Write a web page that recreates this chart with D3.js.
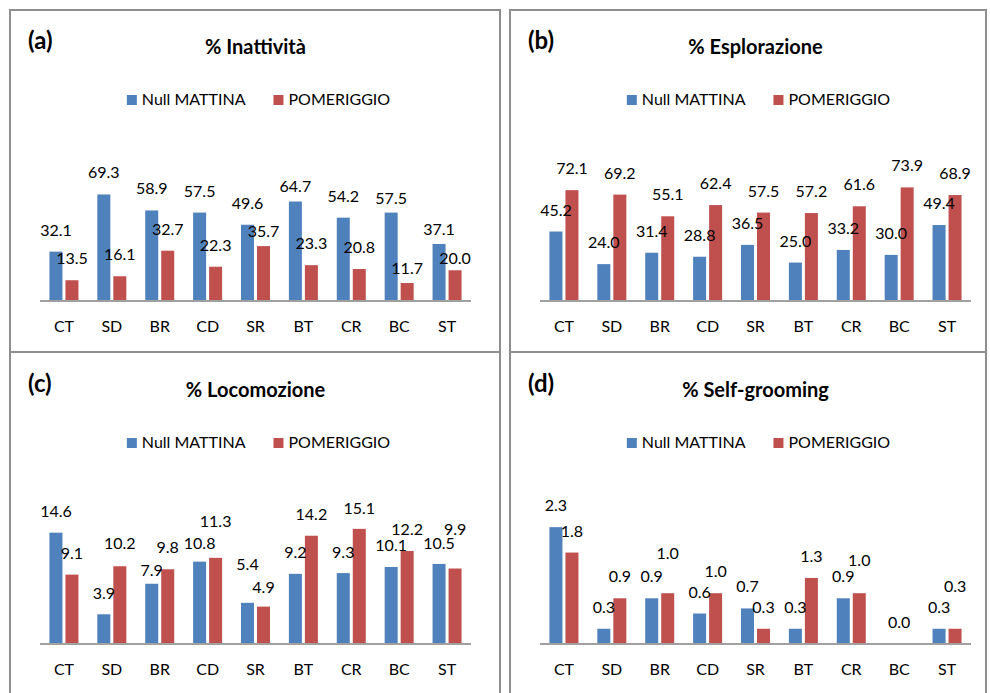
<!DOCTYPE html>
<html>
<head>
<meta charset="utf-8">
<script src="https://cdn.jsdelivr.net/npm/d3@7/dist/d3.min.js"></script>
<style>
  html, body { margin: 0; padding: 0; background: #fff; }
  svg { display: block; font-family: Lato, "Open Sans", sans-serif; }
</style>
</head>
<body>
<svg id="chart" width="990" height="693"></svg>
<script>
const categories = ["CT", "SD", "BR", "CD", "SR", "BT", "CR", "BC", "ST"];
const seriesNames = ["Null MATTINA", "POMERIGGIO"];
const seriesColors = ["#4F81BD", "#C0504D"];

const inattivitaMattina     = [32.1, 69.3, 58.9, 57.5, 49.6, 64.7, 54.2, 57.5, 37.1];
const inattivitaPomeriggio  = [13.5, 16.1, 32.7, 22.3, 35.7, 23.3, 20.8, 11.7, 20.0];
const esplorazioneMattina   = [45.2, 24.0, 31.4, 28.8, 36.5, 25.0, 33.2, 30.0, 49.4];
const esplorazionePomeriggio= [72.1, 69.2, 55.1, 62.4, 57.5, 57.2, 61.6, 73.9, 68.9];
const locomozioneMattina    = [14.6, 3.9, 7.9, 10.8, 5.4, 9.2, 9.3, 10.1, 10.5];
const locomozionePomeriggio = [9.1, 10.2, 9.8, 11.3, 4.9, 14.2, 15.1, 12.2, 9.9];
const selfGroomingMattina   = [2.3, 0.3, 0.9, 0.6, 0.7, 0.3, 0.9, 0.0, 0.3];
const selfGroomingPomeriggio= [1.8, 0.9, 1.0, 1.0, 0.3, 1.3, 1.0, 0.0, 0.3];

const panelLetters = ["(a)", "(b)", "(c)", "(d)"];
const panelTitles = ["% Inattività", "% Esplorazione", "% Locomozione", "% Self-grooming"];
const panelSeries = [
  [inattivitaMattina, inattivitaPomeriggio],
  [esplorazioneMattina, esplorazionePomeriggio],
  [locomozioneMattina, locomozionePomeriggio],
  [selfGroomingMattina, selfGroomingPomeriggio]
];
const axisMax = [80, 80, 16, 2.5];

// manual data-label vertical nudges (px, positive = higher), as placed in the original
const labelNudge = [
  [[0, 0, 0, 0, 0, -6, 0, -7, -7], [0, 0, 0, 0, -7, 0, 0, -7, -10]],
  [[0, 0, 0, 0, 0, 0, 0, 0, 0], [0, 0, 0, 0, 0, 0, 0, 0, 0]],
  [[0, -1, -8, -3, 17, 0, -1, 0, -1], [0, 1, 0, 15, -2, 0, -1, 0, 18]],
  [[0, 0, 0, 0, 0, 0, 0, 0, 0], [0, 0, 18, 0, 0, 0, 11, 0, 21]]
];

const svg = d3.select("#chart");

const panels = [
  {x: 10, y: 10, w: 490, h: 342, ox: 0, oy: 0, plotH: 123},
  {x: 510, y: 10, w: 476, h: 342, ox: 500, oy: 0, plotH: 123},
  {x: 10, y: 352, w: 490, h: 360, ox: 0, oy: 343, plotH: 122},
  {x: 510, y: 352, w: 476, h: 360, ox: 500, oy: 343, plotH: 127}
];

panels.forEach((p, i) => {
  const g = svg.append("g");
  g.append("rect")
    .attr("x", p.x).attr("y", p.y).attr("width", p.w).attr("height", p.h)
    .attr("fill", "none").attr("stroke", "#8e8e8e").attr("stroke-width", 2);

  const x0 = 40 + p.ox, x1 = 471 + p.ox;
  const base = 301 + p.oy;
  const xScale = d3.scaleBand().domain(categories).range([x0, x1]).padding(0);
  const yScale = d3.scaleLinear().domain([0, axisMax[i]]).range([base, base - p.plotH]);
  const barW = 13, gap = 3;
  const sub = d3.scaleOrdinal().domain([0, 1]).range([-(barW + gap / 2), gap / 2]);
  const cx = (x0 + x1) / 2;

  g.append("text").attr("x", 28 + p.ox).attr("y", 49 + p.oy)
    .attr("font-size", 24).attr("font-weight", "bold").attr("fill", "#000")
    .text(panelLetters[i]);
  g.append("text").attr("x", cx).attr("y", 54 + p.oy)
    .attr("text-anchor", "middle").attr("font-size", 20).attr("font-weight", "bold").attr("fill", "#000")
    .text(panelTitles[i]);

  const leg = g.append("g");
  let lx = 0;
  seriesNames.forEach((name, s) => {
    leg.append("rect").attr("x", lx).attr("y", 95 + p.oy).attr("width", 10).attr("height", 10)
      .attr("fill", seriesColors[s]);
    const t = leg.append("text").attr("x", lx + 15).attr("y", 105 + p.oy)
      .attr("font-size", 16).attr("fill", "#000").text(name);
    lx += 15 + t.node().getComputedTextLength() + 28;
  });
  const legW = lx - 28;
  leg.attr("transform", `translate(${cx + 3 - legW / 2},0)`);

  const [s0, s1] = panelSeries[i];
  [s0, s1].forEach((vals, s) => {
    g.append("g").selectAll("rect").data(vals).join("rect")
      .attr("x", (d, k) => xScale(categories[k]) + xScale.bandwidth() / 2 + sub(s))
      .attr("y", d => yScale(d))
      .attr("width", barW)
      .attr("height", d => base - yScale(d))
      .attr("fill", seriesColors[s]);
  });

  const axisG = g.append("g").attr("transform", `translate(0,${base})`)
    .call(d3.axisBottom(xScale).tickSize(0).tickPadding(0));
  axisG.select(".domain").attr("stroke", "#a0a0a0").attr("stroke-width", 2)
    .attr("d", `M${x0},0H${x1}`);
  axisG.selectAll(".tick text").attr("font-size", 16).attr("font-family", "Lato, sans-serif")
    .attr("fill", "#000").attr("dy", null).attr("y", 31);

  categories.forEach((c, k) => {
    const a = s0[k], b = s1[k];
    const center = xScale(c) + xScale.bandwidth() / 2;
    if (a === 0 && b === 0) {
      g.append("text").attr("x", center).attr("y", yScale(0) - 16)
        .attr("text-anchor", "middle").attr("font-size", 16).attr("fill", "#000")
        .text(d3.format(".1f")(0));
      return;
    }
    [a, b].forEach((v, s) => {
      g.append("text").attr("x", center + sub(s) + barW / 2)
        .attr("y", yScale(v) - 16 - labelNudge[i][s][k])
        .attr("text-anchor", "middle").attr("font-size", 16).attr("fill", "#000")
        .text(d3.format(".1f")(v));
    });
  });
});
</script>
</body>
</html>
